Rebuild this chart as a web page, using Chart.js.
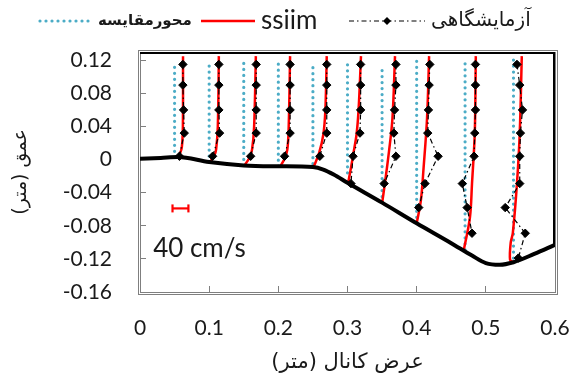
<!DOCTYPE html>
<html>
<head>
<meta charset="utf-8">
<script src="https://cdn.jsdelivr.net/npm/chart.js@4.4.1/dist/chart.umd.min.js"></script>
<style>
  html, body { margin: 0; padding: 0; background: #fff; }
  #wrap { width: 579px; height: 387px; }
</style>
</head>
<body>
<div id="wrap"><canvas id="chart" width="579" height="387"></canvas></div>
<script>
// measuring stations across the channel (m)
const stations = [0.05, 0.10, 0.15, 0.20, 0.25, 0.30, 0.35, 0.40, 0.47, 0.54];

// comparison axis extent at each station (m)
const axisBottom = [0.010, -0.003, -0.007, -0.008, -0.005, -0.016, -0.052, -0.077, -0.109, -0.119];
const axisTop = [0.118, 0.113, 0.118, 0.118, 0.117, 0.119, 0.114, 0.123, 0.118, 0.126];

// channel bed, then side wall and water surface
const bedX = [0, 0.03, 0.055, 0.10, 0.15, 0.20, 0.25, 0.265, 0.28, 0.30, 0.35, 0.40, 0.45, 0.48, 0.50, 0.52, 0.54, 0.57, 0.60];
const bedY = [0.001, 0.002, 0.003, -0.003, -0.007, -0.008, -0.009, -0.012, -0.018, -0.028, -0.052, -0.077, -0.101, -0.116, -0.125, -0.127, -0.124, -0.114, -0.103];
const wallX = [0.60, 0.60, 0];
const wallY = [-0.103, 0.13, 0.13];

// laboratory profiles: depths and plotted positions
const labDepths = [0.115, 0.09, 0.06, 0.032, 0.004, -0.029, -0.058, -0.089, -0.119];
const labX = [
  [0.062, 0.062, 0.063, 0.064, 0.057],
  [0.114, 0.114, 0.114, 0.115, 0.105],
  [0.168, 0.168, 0.168, 0.168, 0.160],
  [0.217, 0.217, 0.217, 0.217, 0.209],
  [0.270, 0.270, 0.270, 0.270, 0.260],
  [0.319, 0.319, 0.319, 0.318, 0.308, 0.305],
  [0.370, 0.370, 0.368, 0.367, 0.370, 0.353],
  [0.419, 0.418, 0.417, 0.416, 0.431, 0.412, 0.403],
  [0.485, 0.485, 0.485, 0.484, 0.483, 0.466, 0.473, 0.480],
  [0.545, 0.549, 0.553, 0.550, 0.549, 0.549, 0.528, 0.557, 0.547]
];

// SSIIM profiles
const modelY = [
  [0.003, 0.008, 0.015, 0.04, 0.125],
  [-0.003, 0.004, 0.012, 0.04, 0.125],
  [-0.007, 0.002, 0.012, 0.04, 0.125],
  [-0.008, 0.001, 0.012, 0.04, 0.125],
  [-0.009, 0.008, 0.03, 0.06, 0.125],
  [-0.028, -0.01, 0.005, 0.03, 0.06, 0.125],
  [-0.053, -0.029, 0.01, 0.05, 0.125],
  [-0.077, -0.05, -0.01, 0.05, 0.125],
  [-0.110, -0.07, -0.029, 0.032, 0.125],
  [-0.124, -0.121, -0.10, -0.089, -0.029, 0.032, 0.125]
];
const modelX = [
  [0.054, 0.058, 0.0605, 0.062, 0.0622],
  [0.101, 0.107, 0.110, 0.1125, 0.114],
  [0.151, 0.158, 0.162, 0.165, 0.1675],
  [0.203, 0.209, 0.213, 0.215, 0.217],
  [0.251, 0.259, 0.265, 0.268, 0.270],
  [0.301, 0.305, 0.308, 0.313, 0.316, 0.3195],
  [0.350, 0.354, 0.360, 0.365, 0.3687],
  [0.400, 0.406, 0.410, 0.415, 0.418],
  [0.468, 0.477, 0.480, 0.484, 0.4855],
  [0.539, 0.535, 0.536, 0.539, 0.545, 0.549, 0.552]
];

// velocity scale bar
const scaleBarX = [0.047, 0.070];
const scaleBarY = -0.059;
const scaleBarText = '40 cm/s';
const scaleTextAt = { x: 0.019, y: -0.107 };

const xTicks = [0, 0.1, 0.2, 0.3, 0.4, 0.5, 0.6];
const yTicks = [-0.16, -0.12, -0.08, -0.04, 0, 0.04, 0.08, 0.12];

const CYAN = '#4bacc6';
const RED = '#ff0000';
const LATIN = 'Lato, "DejaVu Sans", sans-serif';
const PERSIAN = '"DejaVu Sans", sans-serif';

const pts = (xs, ys) => xs.map((x, i) => ({ x, y: ys[i] }));

const datasets = [];

datasets.push({
  label: 'bed', data: pts(bedX, bedY), order: 0,
  borderColor: '#000', borderWidth: 4, pointRadius: 0,
  tension: 0.4, cubicInterpolationMode: 'monotone'
});
datasets.push({
  label: 'wall', data: pts(wallX, wallY), order: 0,
  borderColor: '#000', borderWidth: 4, pointRadius: 0,
  borderJoinStyle: 'miter'
});

stations.forEach((s, i) => {
  datasets.push({
    label: 'محورمقایسه', data: [{ x: s, y: axisBottom[i] }, { x: s, y: axisTop[i] }], order: 3,
    borderColor: CYAN, borderWidth: 3.2, borderDash: [0, 6], borderCapStyle: 'round', pointRadius: 0
  });
  datasets.push({
    label: 'ssiim', data: pts(modelX[i], modelY[i]), order: 2,
    borderColor: RED, borderWidth: 2.5, pointRadius: 0, tension: 0.35
  });
  datasets.push({
    label: 'آزمایشگاهی', data: pts(labX[i], labDepths.slice(0, labX[i].length)), order: 1,
    borderColor: '#000', borderWidth: 1.2, borderDash: [5, 3, 1.5, 3],
    pointStyle: 'rectRot', pointRadius: 4.2, pointBackgroundColor: '#000', pointBorderColor: '#000', pointBorderWidth: 1
  });
});

datasets.push({
  label: 'scale', data: scaleBarX.map(x => ({ x, y: scaleBarY })), order: 1,
  borderColor: RED, borderWidth: 2.2, pointStyle: 'line', pointRotation: 90,
  pointRadius: 4, pointBorderColor: RED, pointBorderWidth: 2.2
});

// double grey frame round the plot area
const plotFrame = {
  id: 'plotFrame',
  beforeDatasetsDraw(chart) {
    const { ctx, chartArea: a } = chart;
    ctx.save();
    ctx.strokeStyle = '#7f7f7f';
    ctx.lineWidth = 1;
    ctx.strokeRect(a.left + 0.5, a.top + 0.5, a.right - a.left, a.bottom - a.top);
    ctx.strokeRect(a.left - 1.5, a.top - 1.5, a.right - a.left + 4, a.bottom - a.top + 4);
    ctx.restore();
  }
};

// velocity label next to the scale bar
const scaleLabel = {
  id: 'scaleLabel',
  afterDatasetsDraw(chart) {
    const { ctx, scales } = chart;
    ctx.save();
    ctx.font = '26px ' + LATIN;
    ctx.fillStyle = '#1a1a1a';
    ctx.textAlign = 'left';
    ctx.textBaseline = 'middle';
    ctx.fillText(scaleBarText, scales.x.getPixelForValue(scaleTextAt.x), scales.y.getPixelForValue(scaleTextAt.y));
    ctx.restore();
  }
};

// legend row: sample line then caption, one per series type
const legendRow = {
  id: 'legendRow',
  afterDraw(chart) {
    const { ctx } = chart;
    const y = 21;
    const items = [
      { x: 40, w: 52, color: CYAN, width: 3.2, dash: [0, 6], cap: 'round', text: 'محورمقایسه', font: 'bold 15px ' + PERSIAN },
      { x: 201, w: 54, color: RED, width: 2.5, dash: [], cap: 'butt', text: 'ssiim', font: '26px ' + LATIN },
      { x: 349, w: 76, color: '#000', width: 1.2, dash: [5, 3, 1.5, 3], cap: 'butt', text: 'آزمایشگاهی', font: '20px ' + PERSIAN, marker: true }
    ];
    ctx.save();
    items.forEach(it => {
      ctx.beginPath();
      ctx.setLineDash(it.dash);
      ctx.lineCap = it.cap;
      ctx.lineWidth = it.width;
      ctx.strokeStyle = it.color;
      ctx.moveTo(it.x, y);
      ctx.lineTo(it.x + it.w, y);
      ctx.stroke();
      ctx.setLineDash([]);
      if (it.marker) {
        const cx = it.x + it.w / 2;
        ctx.beginPath();
        ctx.moveTo(cx, y - 4); ctx.lineTo(cx + 4, y); ctx.lineTo(cx, y + 4); ctx.lineTo(cx - 4, y);
        ctx.closePath();
        ctx.fillStyle = '#000';
        ctx.fill();
      }
      ctx.font = it.font;
      ctx.fillStyle = '#1a1a1a';
      ctx.textAlign = 'left';
      ctx.textBaseline = 'middle';
      ctx.fillText(it.text, it.x + it.w + 6, y);
    });
    ctx.restore();
  }
};

const tickColor = '#7f7f7f';

new Chart(document.getElementById('chart'), {
  type: 'line',
  data: { datasets },
  options: {
    responsive: false,
    animation: false,
    layout: { padding: { top: 52, right: 24, bottom: 0, left: 0 } },
    plugins: { legend: { display: false }, tooltip: { enabled: false } },
    scales: {
      x: {
        type: 'linear', min: 0, max: 0.6,
        afterBuildTicks: s => { s.ticks = xTicks.map(v => ({ value: v })); },
        afterFit: s => { s.height = 95; s.paddingLeft = 0; s.paddingRight = 0; },
        border: { display: false },
        grid: { drawOnChartArea: false, drawTicks: true, tickLength: -6, color: tickColor },
        ticks: { padding: 30, color: '#1a1a1a', font: { family: LATIN, size: 21 }, callback: v => String(v) },
        title: { display: true, text: 'عرض کانال (متر)', color: '#1a1a1a', font: { family: PERSIAN, size: 21 }, padding: { top: 0, bottom: 12 } }
      },
      y: {
        type: 'linear', min: -0.16, max: 0.13,
        afterBuildTicks: s => { s.ticks = yTicks.map(v => ({ value: v })); },
        afterFit: s => { s.width = 140; s.paddingTop = 0; s.paddingBottom = 0; },
        border: { display: false },
        grid: { drawOnChartArea: false, drawTicks: true, tickLength: -6, color: tickColor },
        ticks: { padding: 34, color: '#1a1a1a', font: { family: LATIN, size: 21 }, callback: v => String(+v.toFixed(2)) },
        title: { display: true, text: 'عمق (متر)', color: '#1a1a1a', font: { family: PERSIAN, size: 19 }, padding: { top: 10, bottom: 0 } }
      }
    }
  },
  plugins: [plotFrame, scaleLabel, legendRow]
});
</script>
</body>
</html>
